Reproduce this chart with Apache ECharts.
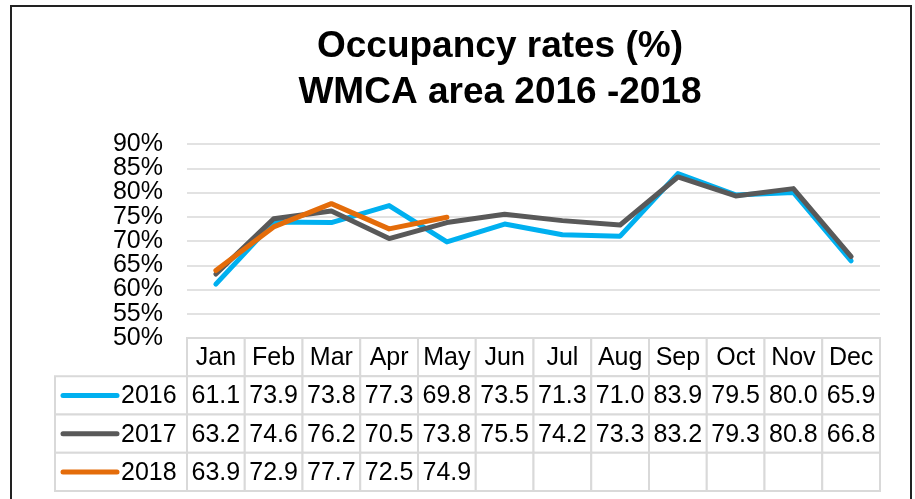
<!DOCTYPE html>
<html>
<head>
<meta charset="utf-8">
<script src="https://cdn.jsdelivr.net/npm/echarts@6/dist/echarts.min.js"></script>
<style>
  html, body { margin: 0; padding: 0; background: #fff; }
  #chart { width: 915px; height: 499px; }
</style>
</head>
<body>
<div id="chart"></div>
<script>
var months = ['Jan', 'Feb', 'Mar', 'Apr', 'May', 'Jun', 'Jul', 'Aug', 'Sep', 'Oct', 'Nov', 'Dec'];
var years = ['2016', '2017', '2018'];
var rate2016 = [61.1, 73.9, 73.8, 77.3, 69.8, 73.5, 71.3, 71.0, 83.9, 79.5, 80.0, 65.9];
var rate2017 = [63.2, 74.6, 76.2, 70.5, 73.8, 75.5, 74.2, 73.3, 83.2, 79.3, 80.8, 66.8];
var rate2018 = [63.9, 72.9, 77.7, 72.5, 74.9];
var yMin = 50, yMax = 90, yStep = 5;

var colors = ['#00B0F0', '#595959', '#E46C0A'];
var FONT = "'Liberation Sans', Arial, sans-serif";
var rates = [rate2016, rate2017, rate2018];

// table cells: header row (row 0) + one row per year
var cellData = [], cellText = [];
months.forEach(function (m, i) {
    cellData.push([i, 0]);
    cellText.push(m);
});
rates.forEach(function (arr, r) {
    months.forEach(function (m, i) {
        cellData.push([i, r + 1]);
        cellText.push(arr[i] != null ? arr[i].toFixed(1) : '');
    });
});

// tick labels are tall, so they are split over two axes (even / odd steps)
// to stop echarts from dropping the ones next to the min and max
function pctAxis(odd, withGrid) {
    return {
        gridIndex: 0,
        type: 'value',
        position: 'left',
        min: yMin,
        max: yMax,
        interval: yStep,
        axisLine: { show: false },
        axisTick: { show: false },
        axisLabel: {
            formatter: function (v) {
                var isOdd = Math.round((v - yMin) / yStep) % 2 === 1;
                return isOdd === odd ? v + '%' : '';
            },
            fontFamily: FONT,
            fontSize: 25,
            color: '#000',
            margin: 24
        },
        splitLine: { show: withGrid, lineStyle: { color: '#d9d9d9', width: 1.5 } }
    };
}

var myChart = echarts.init(document.getElementById('chart'));

var option = {
    animation: false,
    backgroundColor: '#fff',
    title: {
        text: 'Occupancy rates (%)\nWMCA area 2016 -2018',
        left: 500,
        top: 24,
        padding: 0,
        textAlign: 'center',
        textStyle: {
            fontFamily: FONT,
            fontSize: 37,
            fontWeight: 'bold',
            color: '#000',
            lineHeight: 46
        }
    },
    graphic: [{
        type: 'rect',
        shape: { x: 11, y: 6, width: 900, height: 510 },
        style: { fill: 'none', stroke: '#222', lineWidth: 2 },
        z: 100
    }],
    grid: [
        { left: 187, right: 35, top: 144, height: 194 },
        { left: 187, right: 35, top: 338, height: 153 }
    ],
    xAxis: [{
        gridIndex: 0,
        type: 'category',
        data: months,
        boundaryGap: true,
        axisLine: { show: false },
        axisTick: { show: false },
        axisLabel: { show: false }
    }, {
        gridIndex: 1,
        type: 'category',
        data: months,
        show: false
    }],
    yAxis: [
        pctAxis(false, true),
        {
            gridIndex: 1,
            type: 'category',
            data: ['head'].concat(years),
            inverse: true,
            show: false
        },
        pctAxis(true, false)
    ],
    series: [
        {
            name: '2016', type: 'line', data: rate2016,
            symbol: 'none', z: 2,
            lineStyle: { color: colors[0], width: 5, cap: 'round', join: 'round' }
        },
        {
            name: '2017', type: 'line', data: rate2017,
            symbol: 'none', z: 3,
            lineStyle: { color: colors[1], width: 5, cap: 'round', join: 'round' }
        },
        {
            name: '2018', type: 'line', data: rate2018,
            symbol: 'none', z: 4,
            lineStyle: { color: colors[2], width: 5, cap: 'round', join: 'round' }
        },
        // data table cells
        {
            type: 'custom',
            xAxisIndex: 1,
            yAxisIndex: 1,
            clip: false,
            data: cellData,
            renderItem: function (params, api) {
                var p = api.coord([api.value(0), api.value(1)]);
                var s = api.size([1, 1]);
                return {
                    type: 'group',
                    children: [{
                        type: 'rect',
                        shape: { x: p[0] - s[0] / 2, y: p[1] - s[1] / 2, width: s[0], height: s[1] },
                        style: { fill: '#fff', stroke: '#d9d9d9', lineWidth: 2 }
                    }, {
                        type: 'text',
                        style: {
                            text: cellText[params.dataIndex],
                            x: p[0], y: p[1] + 1,
                            align: 'center', verticalAlign: 'middle',
                            font: '25px ' + FONT,
                            fill: '#000'
                        }
                    }]
                };
            }
        },
        // legend column of the table
        {
            type: 'custom',
            xAxisIndex: 1,
            yAxisIndex: 1,
            clip: false,
            data: years.map(function (y, i) { return [0, i + 1]; }),
            renderItem: function (params, api) {
                var p = api.coord([0, api.value(1)]);
                var s = api.size([1, 1]);
                var x0 = params.coordSys.x;
                var c = colors[params.dataIndex];
                return {
                    type: 'group',
                    children: [{
                        type: 'rect',
                        shape: { x: x0 - 132, y: p[1] - s[1] / 2, width: 132, height: s[1] },
                        style: { fill: '#fff', stroke: '#d9d9d9', lineWidth: 2 }
                    }, {
                        type: 'line',
                        shape: { x1: x0 - 124, y1: p[1], x2: x0 - 70, y2: p[1] },
                        style: { stroke: c, lineWidth: 5, lineCap: 'round' }
                    }, {
                        type: 'text',
                        style: {
                            text: years[params.dataIndex],
                            x: x0 - 66, y: p[1] + 1,
                            align: 'left', verticalAlign: 'middle',
                            font: '25px ' + FONT,
                            fill: '#000'
                        }
                    }]
                };
            }
        }
    ]
};

myChart.setOption(option);
</script>
</body>
</html>
